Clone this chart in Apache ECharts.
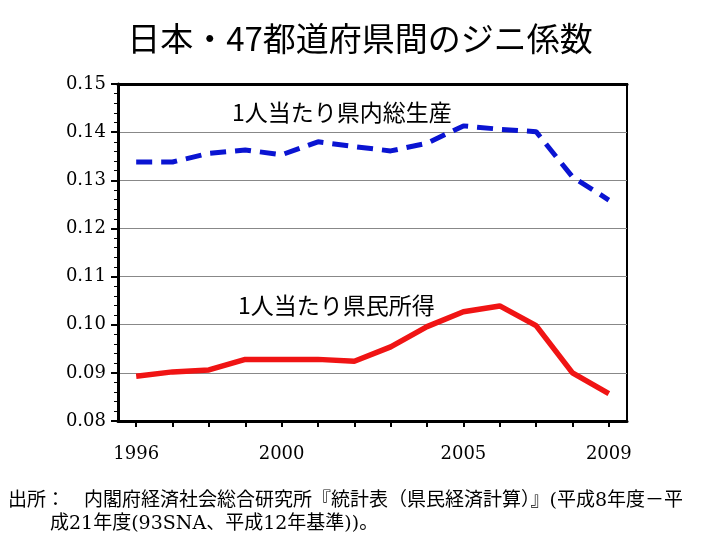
<!DOCTYPE html>
<html>
<head>
<meta charset="utf-8">
<script src="https://cdn.jsdelivr.net/npm/echarts@6/dist/echarts.min.js"></script>
<style>html,body{margin:0;padding:0;background:#fff;}#c{width:720px;height:540px;}</style>
</head>
<body>
<div id="c"></div>
<script>
const years = ['1996','1997','1998','1999','2000','2001','2002','2003','2004','2005','2006','2007','2008','2009'];
const shownYears = ['1996','2000','2005','2009'];
const gdpGini = [0.1338, 0.1338, 0.1356, 0.1363, 0.1353, 0.1380, 0.1370, 0.1361, 0.1377, 0.1413, 0.1406, 0.1401, 0.1307, 0.1259];
const incomeGini = [0.0893, 0.0902, 0.0906, 0.0928, 0.0928, 0.0928, 0.0924, 0.0954, 0.0996, 0.1027, 0.1039, 0.0998, 0.0900, 0.0857];
const gdpName = '1人当たり県内総生産';
const incomeName = '1人当たり県民所得';
const titleText = '日本・47都道府県間のジニ係数';
const noteLine1 = '出所：\u3000内閣府経済社会総合研究所『統計表（県民経済計算）』(平成8年度－平';
const noteLine2 = '成21年度(93SNA、平成12年基準))。';

const serif = '"DejaVu Serif", "Noto Sans CJK JP", serif';
const sans = '"Noto Sans CJK JP", sans-serif';

const chart = echarts.init(document.getElementById('c'));
chart.setOption({
  animation: false,
  backgroundColor: '#fff',
  title: {
    text: titleText, left: 'center', top: 17,
    textStyle: { fontFamily: sans, fontSize: 33, fontWeight: 'normal', color: '#000' }
  },
  grid: { left: 118, right: 93, top: 84, bottom: 119, show: true, borderColor: '#000', borderWidth: 2, containLabel: false },
  xAxis: [{
    type: 'category', data: years, boundaryGap: true,
    axisLine: { lineStyle: { color: '#000', width: 3 } },
    axisTick: { show: true, alignWithLabel: true, interval: 0, length: 6, lineStyle: { color: '#000', width: 2 } },
    axisLabel: {
      interval: function (i, v) { return shownYears.indexOf(v) >= 0; },
      fontFamily: serif, fontSize: 18, color: '#000', margin: 24
    },
    splitLine: { show: false }
  }, {
    type: 'category', data: years, position: 'top', boundaryGap: true,
    axisLine: { show: true, lineStyle: { color: '#000', width: 3 } },
    axisTick: { show: false }, axisLabel: { show: false }, splitLine: { show: false }
  }],
  yAxis: {
    type: 'value', min: 0.08, max: 0.15, interval: 0.01,
    axisLine: { show: true, lineStyle: { color: '#000', width: 3 } },
    axisTick: { show: true, length: 7, lineStyle: { color: '#000', width: 2 } },
    minorTick: { show: true, splitNumber: 5, length: 4, lineStyle: { color: '#000', width: 1 } },
    axisLabel: { formatter: v => v.toFixed(2), fontFamily: serif, fontSize: 18, color: '#000', margin: 12 },
    splitLine: { show: true, lineStyle: { color: '#888', width: 1 } }
  },
  series: [{
    name: gdpName, type: 'line', data: gdpGini, symbol: 'none', smooth: false,
    lineStyle: { color: '#0a14d2', width: 5, type: [16, 9], cap: 'butt' }
  }, {
    name: incomeName, type: 'line', data: incomeGini, symbol: 'none', smooth: false,
    lineStyle: { color: '#f01414', width: 5.5 }
  }],
  graphic: [
    { type: 'text', left: 232, top: 101, style: { text: gdpName, font: '23px ' + sans, fill: '#000' } },
    { type: 'text', left: 238, top: 294, style: { text: incomeName, font: '23px ' + sans, fill: '#000' } },
    { type: 'text', left: 8, top: 492, style: { text: noteLine1, font: '19px ' + serif, fill: '#000' } },
    { type: 'text', left: 50, top: 515, style: { text: noteLine2, font: '19px ' + serif, fill: '#000' } }
  ]
});
</script>
</body>
</html>
